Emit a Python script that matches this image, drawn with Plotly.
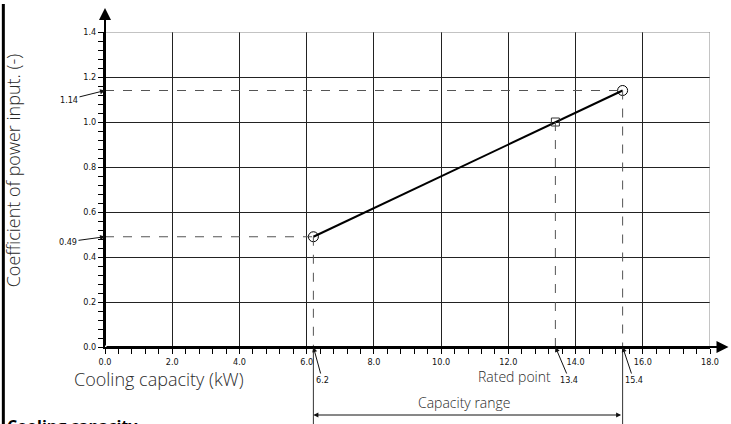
import plotly.graph_objects as go

# ---- data ----
capacity_kw = [6.2, 13.4, 15.4]
coef_power = [0.49, 1.00, 1.14]
point_names = ["min", "rated", "max"]
x_tick_vals = [0, 2, 4, 6, 8, 10, 12, 14, 16, 18]
y_tick_vals = [0.0, 0.2, 0.4, 0.6, 0.8, 1.0, 1.2, 1.4]
x_title = "Cooling capacity (kW)"
y_title = "Coefficient of power input. (-)"

W, H = 731, 424
ML, MR, MT, MB = 105, 19, 32, 77
PW, PH = W - ML - MR, H - MT - MB

def px_x(p):  # pixel -> paper x
    return (p - ML) / PW

def px_y(p):  # pixel -> paper y
    return (H - MB - p) / PH

tick_font = dict(family="DejaVu Sans Condensed, Liberation Sans Narrow, DejaVu Sans", size=9, color="#111")
light_font = dict(family="Open Sans, Lato, DejaVu Sans", color="#2a2a2a", weight=300)

fig = go.Figure()

fig.add_trace(go.Scatter(x=[capacity_kw[0], capacity_kw[2]], y=[coef_power[0], coef_power[2]],
                         mode="lines", line=dict(color="black", width=2), hoverinfo="skip",
                         showlegend=False))
fig.add_trace(go.Scatter(x=[capacity_kw[0], capacity_kw[2]], y=[coef_power[0], coef_power[2]],
                         mode="markers", marker=dict(symbol="circle-open", size=10,
                                                     color="black", line=dict(width=1)),
                         showlegend=False))
fig.add_trace(go.Scatter(x=[capacity_kw[1]], y=[coef_power[1]], mode="markers",
                         marker=dict(symbol="square-open", size=8, color="#333",
                                     line=dict(width=1)),
                         showlegend=False))

shapes = []
dash = dict(color="#555", width=1, dash="dash")
for i in (0, 2):
    shapes.append(dict(type="line", xref="x", yref="y", x0=0, x1=capacity_kw[i],
                       y0=coef_power[i], y1=coef_power[i], line=dash, layer="above"))
for i in range(3):
    shapes.append(dict(type="line", xref="x", yref="y", x0=capacity_kw[i], x1=capacity_kw[i],
                       y0=coef_power[i], y1=0, line=dash, layer="above"))
for i in (0, 2):
    shapes.append(dict(type="line", xref="x", yref="paper", x0=capacity_kw[i], x1=capacity_kw[i],
                       y0=0, y1=px_y(H + 2), line=dict(color="#333", width=1)))
shapes.append(dict(type="line", xref="x", yref="y", x0=0, x1=18, y0=1.4, y1=1.4,
                   line=dict(color="#888", width=1), layer="above"))
shapes.append(dict(type="line", xref="x", yref="y", x0=18, x1=18, y0=0, y1=1.4,
                   line=dict(color="#888", width=1), layer="above"))
shapes.append(dict(type="line", xref="paper", yref="paper", x0=px_x(3), x1=px_x(3),
                   y0=px_y(4), y1=px_y(H + 2), line=dict(color="black", width=3)))

annotations = []
annotations.append(dict(x=0, y=1.507, xref="x", yref="y", ax=0, ay=0, axref="x", ayref="y",
                        showarrow=True, arrowhead=2, arrowsize=1.2, arrowwidth=2,
                        arrowcolor="black", text=""))
annotations.append(dict(x=18.55, y=0, xref="x", yref="y", ax=0, ay=0, axref="x", ayref="y",
                        showarrow=True, arrowhead=2, arrowsize=1.2, arrowwidth=2,
                        arrowcolor="black", text=""))
small = dict(family="DejaVu Sans Condensed, Liberation Sans Narrow, DejaVu Sans", size=9, color="#111")
annotations.append(dict(x=0, y=coef_power[2], xref="x", yref="y", text="1.14", ax=-36, ay=9,
                        showarrow=True, arrowhead=2, arrowsize=1, arrowwidth=1, arrowcolor="#111",
                        font=small))
annotations.append(dict(x=0, y=coef_power[0], xref="x", yref="y", text="0.49", ax=-37, ay=5,
                        showarrow=True, arrowhead=2, arrowsize=1, arrowwidth=1, arrowcolor="#111",
                        font=small))
for xv, lbl, axo in zip(capacity_kw, ["6.2", "13.4", "15.4"], [9, 14, 11]):
    annotations.append(dict(x=xv, y=0, xref="x", yref="y", text=lbl, ax=axo, ay=33,
                            showarrow=True, arrowhead=2, arrowsize=1, arrowwidth=1,
                            arrowcolor="#111", font=small))
annotations.append(dict(x=capacity_kw[0], y=px_y(415), xref="x", yref="paper",
                        ax=capacity_kw[2], ay=0, axref="x", ayref="pixel", text="",
                        showarrow=True, arrowhead=2, startarrowhead=2, arrowside="end+start",
                        arrowsize=1, arrowwidth=1, arrowcolor="#111"))
annotations.append(dict(x=px_x(466), y=px_y(402), xref="paper", yref="paper", text="Capacity range",
                        xanchor="center", yanchor="middle",
                        showarrow=False, font=dict(size=14, **light_font)))
annotations.append(dict(x=px_x(516), y=px_y(376), xref="paper", yref="paper", text="Rated point",
                        xanchor="center", yanchor="middle",
                        showarrow=False, font=dict(size=14, **light_font)))
annotations.append(dict(x=px_x(72), y=px_y(379), xref="paper", yref="paper", text=x_title,
                        xanchor="left", yanchor="middle", showarrow=False,
                        font=dict(size=18, **light_font)))
annotations.append(dict(x=px_x(13), y=px_y(170), xref="paper", yref="paper", text=y_title,
                        textangle=-90, xanchor="center", yanchor="middle", showarrow=False,
                        font=dict(size=18, **light_font)))
annotations.append(dict(x=px_x(5), y=px_y(413), xref="paper", yref="paper", text="<b>Cooling capacity</b>",
                        xanchor="left", yanchor="top", showarrow=False,
                        font=dict(family="Open Sans, DejaVu Sans", size=16, color="black")))

fig.update_layout(
    width=W, height=H, autosize=False,
    margin=dict(l=ML, r=MR, t=MT, b=MB),
    paper_bgcolor="white", plot_bgcolor="white",
    showlegend=False,
    shapes=shapes, annotations=annotations,
    xaxis=dict(range=[0, 18], tickvals=x_tick_vals, tickformat=".1f",
               showgrid=True, gridcolor="#222", gridwidth=1, zeroline=False,
               showline=True, linecolor="black", linewidth=2,
               ticks="outside", ticklen=5, tickcolor="black", tickwidth=1,
               minor=dict(dtick=0.4, ticks="outside", ticklen=5, tickcolor="black", showgrid=False),
               tickfont=tick_font, fixedrange=True),
    yaxis=dict(range=[0, 1.4], tickvals=y_tick_vals, tickformat=".1f",
               showgrid=True, gridcolor="#222", gridwidth=1, zeroline=False,
               showline=True, linecolor="black", linewidth=2,
               ticks="outside", ticklen=5, tickcolor="black", tickwidth=1,
               minor=dict(dtick=0.04, ticks="outside", ticklen=5, tickcolor="black", showgrid=False),
               tickfont=tick_font, fixedrange=True),
)

fig.write_html("out.html")
